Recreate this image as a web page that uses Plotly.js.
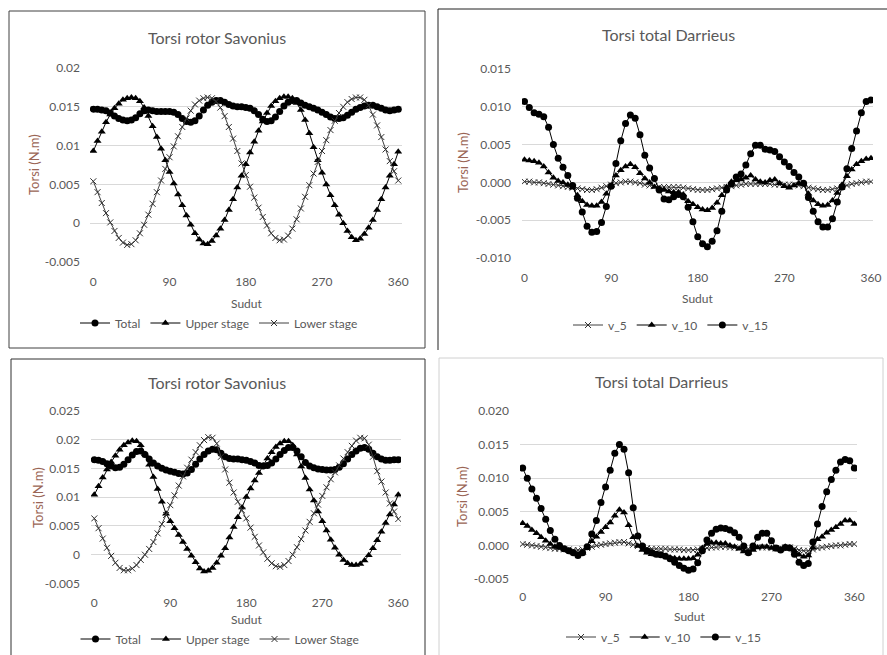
<!DOCTYPE html>
<html><head><meta charset="utf-8">
<script src="https://cdn.plot.ly/plotly-3.0.1.min.js"></script>
<style>html,body{margin:0;padding:0;background:#fff;}#chart{width:887px;height:655px;}</style>
</head><body><div id="chart"></div>
<script>
const angle = [0,5,10,15,20,25,30,35,40,45,50,55,60,65,70,75,80,85,90,95,100,105,110,115,120,125,130,135,140,145,150,155,160,165,170,175,180,185,190,195,200,205,210,215,220,225,230,235,240,245,250,255,260,265,270,275,280,285,290,295,300,305,310,315,320,325,330,335,340,345,350,355,360];
const xTicks = [0,90,180,270,360];

// Panel 1: Torsi rotor Savonius (top)
const sav1Total = [0.0147,0.0147,0.0146,0.0145,0.0142,0.0138,0.0135,0.0133,0.0132,0.0133,
 0.0136,0.0141,0.0145,0.0146,0.0145,0.0144,0.0144,0.0144,0.0144,0.0143,
 0.0140,0.0135,0.0131,0.0130,0.0132,0.0138,0.0146,0.0152,0.0156,0.0158,
 0.0158,0.0156,0.0153,0.0151,0.0150,0.0150,0.0149,0.0148,0.0145,0.0140,
 0.0134,0.0131,0.0132,0.0137,0.0144,0.0151,0.0156,0.0158,0.0158,0.0155,
 0.0152,0.0150,0.0148,0.0146,0.0143,0.0140,0.0137,0.0135,0.0135,0.0136,
 0.0139,0.0143,0.0147,0.0149,0.0151,0.0152,0.0152,0.0150,0.0148,0.0146,
 0.0145,0.0146,0.0147];
const sav1Upper = [0.0093,0.0106,0.0118,0.0130,0.0140,0.0148,0.0154,0.0159,0.0161,0.0162,
 0.0161,0.0157,0.0149,0.0138,0.0125,0.0111,0.0096,0.0081,0.0066,0.0051,
 0.0037,0.0023,0.0010,-0.0002,-0.0013,-0.0021,-0.0026,-0.0027,-0.0023,-0.0016,
 -0.0007,0.0004,0.0017,0.0031,0.0046,0.0061,0.0076,0.0091,0.0105,0.0119,
 0.0131,0.0142,0.0151,0.0157,0.0161,0.0163,0.0163,0.0161,0.0155,0.0146,
 0.0133,0.0116,0.0098,0.0081,0.0065,0.0050,0.0036,0.0023,0.0011,0.0000,
 -0.0010,-0.0018,-0.0022,-0.0020,-0.0014,-0.0006,0.0004,0.0017,0.0031,0.0046,
 0.0061,0.0076,0.0092];
const sav1Lower = [0.0054,0.0040,0.0026,0.0013,0.0001,-0.0010,-0.0019,-0.0025,-0.0028,-0.0027,
 -0.0022,-0.0013,-0.0002,0.0011,0.0025,0.0040,0.0055,0.0070,0.0085,0.0099,
 0.0112,0.0124,0.0135,0.0145,0.0153,0.0158,0.0161,0.0162,0.0161,0.0157,
 0.0149,0.0138,0.0124,0.0109,0.0093,0.0077,0.0062,0.0047,0.0033,0.0020,
 0.0008,-0.0003,-0.0013,-0.0019,-0.0022,-0.0021,-0.0016,-0.0007,0.0005,0.0019,
 0.0034,0.0049,0.0064,0.0079,0.0093,0.0107,0.0120,0.0132,0.0142,0.0150,
 0.0156,0.0160,0.0162,0.0162,0.0159,0.0152,0.0140,0.0126,0.0111,0.0095,
 0.0080,0.0067,0.0055];

// Panel 2: Torsi total Darrieus (top)
const dar1V5 = [0.0001,0.0001,0.0000,0.0000,-0.0001,-0.0002,-0.0003,-0.0004,-0.0005,-0.0006,
 -0.0007,-0.0008,-0.0009,-0.0010,-0.0010,-0.0009,-0.0007,-0.0005,-0.0003,-0.0001,
 0.0000,0.0001,0.0001,0.0000,-0.0001,-0.0003,-0.0004,-0.0005,-0.0006,-0.0006,
 -0.0006,-0.0006,-0.0006,-0.0007,-0.0008,-0.0009,-0.0010,-0.0010,-0.0010,-0.0009,
 -0.0008,-0.0007,-0.0006,-0.0005,-0.0004,-0.0003,-0.0002,-0.0002,-0.0002,-0.0002,
 -0.0002,-0.0002,-0.0003,-0.0003,-0.0003,-0.0003,-0.0003,-0.0004,-0.0005,-0.0007,
 -0.0008,-0.0009,-0.0010,-0.0010,-0.0009,-0.0008,-0.0006,-0.0004,-0.0002,-0.0001,
 0.0000,0.0001,0.0001];
const dar1V10 = [0.0030,0.0029,0.0028,0.0026,0.0021,0.0013,0.0006,0.0002,0.0000,-0.0003,
 -0.0007,-0.0017,-0.0025,-0.0030,-0.0031,-0.0031,-0.0026,-0.0015,-0.0004,0.0009,
 0.0016,0.0021,0.0024,0.0020,0.0012,0.0005,0.0000,-0.0006,-0.0008,-0.0010,
 -0.0012,-0.0013,-0.0013,-0.0016,-0.0025,-0.0029,-0.0033,-0.0036,-0.0037,-0.0034,
 -0.0027,-0.0017,-0.0006,0.0001,0.0003,0.0004,0.0006,0.0009,0.0004,0.0001,
 0.0000,0.0003,0.0004,-0.0001,-0.0005,-0.0007,-0.0004,-0.0001,-0.0002,-0.0015,
 -0.0024,-0.0029,-0.0031,-0.0030,-0.0024,-0.0014,-0.0003,0.0008,0.0017,0.0024,
 0.0028,0.0031,0.0032];
const dar1V15 = [0.0107,0.0099,0.0092,0.0090,0.0087,0.0073,0.0050,0.0032,0.0020,0.0009,
 -0.0004,-0.0021,-0.0039,-0.0058,-0.0066,-0.0065,-0.0053,-0.0032,-0.0005,0.0025,
 0.0055,0.0078,0.0089,0.0085,0.0063,0.0036,0.0019,0.0005,-0.0010,-0.0022,
 -0.0023,-0.0019,-0.0016,-0.0019,-0.0033,-0.0052,-0.0072,-0.0081,-0.0085,-0.0078,
 -0.0064,-0.0038,-0.0010,-0.0002,0.0007,0.0011,0.0023,0.0038,0.0049,0.0049,
 0.0044,0.0043,0.0041,0.0034,0.0027,0.0021,0.0013,0.0007,-0.0001,-0.0020,
 -0.0038,-0.0052,-0.0059,-0.0059,-0.0048,-0.0026,-0.0006,0.0018,0.0045,0.0068,
 0.0092,0.0107,0.0109];

// Panel 3: Torsi rotor Savonius (bottom)
const sav3Total = [0.0165,0.0164,0.0162,0.0158,0.0154,0.0151,0.0152,0.0157,0.0165,0.0173,
 0.0179,0.0180,0.0174,0.0166,0.0159,0.0154,0.0150,0.0147,0.0145,0.0143,
 0.0141,0.0140,0.0142,0.0148,0.0157,0.0166,0.0174,0.0180,0.0183,0.0182,
 0.0176,0.0170,0.0167,0.0166,0.0166,0.0165,0.0164,0.0162,0.0159,0.0155,
 0.0154,0.0155,0.0159,0.0166,0.0174,0.0181,0.0186,0.0186,0.0180,0.0170,
 0.0160,0.0154,0.0151,0.0149,0.0148,0.0147,0.0147,0.0148,0.0152,0.0158,
 0.0166,0.0174,0.0180,0.0185,0.0186,0.0183,0.0176,0.0170,0.0166,0.0164,
 0.0164,0.0165,0.0165];
const sav3Upper = [0.0104,0.0119,0.0134,0.0148,0.0161,0.0172,0.0182,0.0190,0.0195,0.0198,
 0.0197,0.0190,0.0175,0.0156,0.0135,0.0114,0.0092,0.0071,0.0058,0.0046,
 0.0034,0.0022,0.0010,-0.0002,-0.0013,-0.0024,-0.0029,-0.0028,-0.0023,-0.0014,
 -0.0002,0.0011,0.0030,0.0048,0.0065,0.0082,0.0100,0.0115,0.0129,0.0142,
 0.0155,0.0167,0.0178,0.0187,0.0193,0.0197,0.0197,0.0190,0.0174,0.0153,
 0.0133,0.0113,0.0094,0.0075,0.0058,0.0042,0.0026,0.0012,0.0000,-0.0009,
 -0.0015,-0.0018,-0.0018,-0.0016,-0.0010,-0.0001,0.0011,0.0025,0.0040,0.0055,
 0.0070,0.0087,0.0104];
const sav3Lower = [0.0063,0.0046,0.0028,0.0012,-0.0002,-0.0014,-0.0023,-0.0027,-0.0027,-0.0024,
 -0.0018,-0.0009,0.0000,0.0010,0.0022,0.0037,0.0053,0.0069,0.0086,0.0103,
 0.0120,0.0136,0.0151,0.0165,0.0178,0.0190,0.0199,0.0204,0.0203,0.0193,
 0.0170,0.0148,0.0125,0.0108,0.0092,0.0077,0.0063,0.0047,0.0031,0.0016,
 0.0004,-0.0007,-0.0015,-0.0020,-0.0021,-0.0018,-0.0011,0.0000,0.0013,0.0027,
 0.0042,0.0057,0.0072,0.0087,0.0102,0.0117,0.0131,0.0143,0.0155,0.0167,
 0.0178,0.0189,0.0198,0.0203,0.0202,0.0191,0.0170,0.0145,0.0127,0.0108,
 0.0089,0.0075,0.0062];

// Panel 4: Torsi total Darrieus (bottom)
const dar2V5 = [0.0002,0.0001,0.0000,-0.0001,-0.0002,-0.0003,-0.0004,-0.0005,-0.0005,-0.0006,
 -0.0006,-0.0007,-0.0007,-0.0006,-0.0004,-0.0002,0.0000,0.0001,0.0002,0.0003,
 0.0004,0.0005,0.0005,0.0003,0.0001,-0.0001,-0.0003,-0.0004,-0.0005,-0.0005,
 -0.0005,-0.0005,-0.0006,-0.0006,-0.0006,-0.0007,-0.0007,-0.0007,-0.0006,-0.0005,
 -0.0004,-0.0003,-0.0003,-0.0002,-0.0002,-0.0003,-0.0003,-0.0004,-0.0005,-0.0005,
 -0.0004,-0.0003,-0.0003,-0.0003,-0.0004,-0.0004,-0.0004,-0.0003,-0.0003,-0.0005,
 -0.0007,-0.0008,-0.0008,-0.0006,-0.0004,-0.0003,-0.0002,-0.0001,0.0000,0.0000,
 0.0001,0.0002,0.0002];
const dar2V10 = [0.0033,0.0029,0.0023,0.0018,0.0012,0.0007,0.0002,-0.0002,-0.0004,-0.0006,
 -0.0008,-0.0011,-0.0013,-0.0011,-0.0004,0.0006,0.0013,0.0020,0.0027,0.0034,
 0.0044,0.0053,0.0049,0.0030,0.0012,-0.0001,-0.0007,-0.0011,-0.0013,-0.0014,
 -0.0015,-0.0016,-0.0018,-0.0019,-0.0020,-0.0020,-0.0020,-0.0019,-0.0014,-0.0004,
 0.0002,0.0004,0.0004,0.0003,0.0003,0.0000,-0.0002,-0.0005,-0.0009,-0.0011,
 -0.0007,-0.0003,-0.0002,-0.0002,-0.0004,-0.0006,-0.0006,-0.0002,-0.0003,-0.0008,
 -0.0014,-0.0017,-0.0015,-0.0003,0.0009,0.0013,0.0019,0.0023,0.0027,0.0032,
 0.0037,0.0037,0.0032];
const dar2V15 = [0.0115,0.0100,0.0084,0.0070,0.0055,0.0039,0.0022,0.0009,0.0000,-0.0005,
 -0.0008,-0.0011,-0.0015,-0.0011,-0.0002,0.0017,0.0037,0.0064,0.0087,0.0112,
 0.0137,0.0150,0.0143,0.0108,0.0056,0.0014,-0.0001,-0.0008,-0.0011,-0.0013,
 -0.0014,-0.0016,-0.0020,-0.0025,-0.0030,-0.0034,-0.0037,-0.0035,-0.0026,-0.0008,
 0.0008,0.0018,0.0024,0.0026,0.0025,0.0023,0.0019,0.0012,-0.0001,-0.0011,
 -0.0001,0.0012,0.0018,0.0018,0.0007,-0.0004,-0.0007,-0.0003,-0.0004,-0.0013,
 -0.0025,-0.0030,-0.0027,0.0005,0.0032,0.0058,0.0080,0.0098,0.0112,0.0124,
 0.0128,0.0126,0.0115];

// Tick labels
const savTicks1 = [0.02,0.015,0.01,0.005,0,-0.005];
const savTickText1 = ["0.02","0.015","0.01","0.005","0","-0.005"];
const darTicks1 = [0.015,0.010,0.005,0,-0.005,-0.010];
const darTickText1 = ["0.015","0.010","0.005","0.000","-0.005","-0.010"];
const savTicks3 = [0.025,0.02,0.015,0.01,0.005,0,-0.005];
const savTickText3 = ["0.025","0.02","0.015","0.01","0.005","0","-0.005"];
const darTicks4 = [0.020,0.015,0.010,0.005,0,-0.005];
const darTickText4 = ["0.020","0.015","0.010","0.005","0.000","-0.005"];

// ---- layout helpers ----
const W = 887, H = 655;
const fx = p => p / W;
const fy = p => 1 - p / H;
const GRAY = '#595959';
const FONT = 'Lato, "Open Sans", sans-serif';

function xAx(l, r, range, anchor, standoff) {
  return {domain:[fx(l), fx(r)], range: range, anchor: anchor, tickvals: xTicks,
    ticktext: xTicks.map(String), showgrid:false, zeroline:false, showline:false,
    ticks:'', ticklabelstandoff: standoff, tickfont:{family:FONT, size:12, color:GRAY}, fixedrange:true};
}
function yAx(t, b, range, anchor, vals, text, standoff) {
  return {domain:[fy(b), fy(t)], range: range, anchor: anchor, tickvals: vals, ticktext: text,
    showgrid:true, gridcolor:'#d9d9d9', gridwidth:1, zeroline:false, showline:false,
    ticks:'', ticklabelstandoff: standoff, tickfont:{family:FONT, size:12, color:GRAY}, fixedrange:true};
}

const lineBlack = {color:'#000000', width:1};
const lineGray = {color:'#404040', width:1};
const mkCircle = {symbol:'circle', size:7, color:'#000000'};
const mkTri = {symbol:'triangle-up', size:7, color:'#000000'};
const mkX = {symbol:'x-thin', size:6, color:'#303030', line:{width:1, color:'#303030'}};

function tr(y, name, xa, ya, leg, line, mk) {
  return {x: angle, y: y, name: name, type:'scatter', mode:'lines+markers', xaxis: xa, yaxis: ya,
    legend: leg, line: line, marker: mk, hoverinfo:'skip'};
}

const data = [
  tr(sav1Total, 'Total', 'x', 'y', 'legend', lineBlack, mkCircle),
  tr(sav1Upper, 'Upper stage', 'x', 'y', 'legend', lineBlack, mkTri),
  tr(sav1Lower, 'Lower stage', 'x', 'y', 'legend', lineGray, mkX),
  tr(dar1V5, 'v_5', 'x2', 'y2', 'legend2', lineGray, mkX),
  tr(dar1V10, 'v_10', 'x2', 'y2', 'legend2', lineBlack, mkTri),
  tr(dar1V15, 'v_15', 'x2', 'y2', 'legend2', lineBlack, mkCircle),
  tr(sav3Total, 'Total', 'x3', 'y3', 'legend3', lineBlack, mkCircle),
  tr(sav3Upper, 'Upper stage', 'x3', 'y3', 'legend3', lineBlack, mkTri),
  tr(sav3Lower, 'Lower Stage', 'x3', 'y3', 'legend3', lineGray, mkX),
  tr(dar2V5, 'v_5', 'x4', 'y4', 'legend4', lineGray, mkX),
  tr(dar2V10, 'v_10', 'x4', 'y4', 'legend4', lineBlack, mkTri),
  tr(dar2V15, 'v_15', 'x4', 'y4', 'legend4', lineBlack, mkCircle)
];

function leg(cx, cy) {
  return {x: fx(cx), y: fy(cy), xanchor:'center', yanchor:'middle', orientation:'h',
    font:{family:FONT, size:12, color:GRAY}, itemwidth:30, bgcolor:'rgba(0,0,0,0)',
    borderwidth:0, itemclick:false, itemdoubleclick:false, tracegroupgap:0};
}

function ann(text, cx, cy, size, color, angleDeg) {
  return {text: text, x: fx(cx), y: fy(cy), xref:'paper', yref:'paper', showarrow:false,
    xanchor:'center', yanchor:'middle', textangle: angleDeg || 0,
    font:{family:FONT, size:size, color:color}};
}
const YT = '#9a6555';
const annotations = [
  ann('Torsi rotor Savonius', 217, 37, 16, GRAY),
  ann('Torsi total Darrieus', 668, 35, 16, GRAY),
  ann('Torsi rotor Savonius', 217, 382, 16, GRAY),
  ann('Torsi total Darrieus', 661, 381, 16, GRAY),
  ann('Torsi (N.m)', 34, 165, 13, YT, -90),
  ann('Torsi (N.m)', 463, 163, 13, YT, -90),
  ann('Torsi (N.m)', 38, 498, 13, YT, -90),
  ann('Torsi (N.m)', 462, 496, 13, YT, -90),
  ann('Sudut', 246, 303, 12, GRAY),
  ann('Sudut', 697, 298, 12, GRAY),
  ann('Sudut', 246, 619, 12, GRAY),
  ann('Sudut', 689, 616, 12, GRAY)
];

function seg(x0, y0, x1, y1, color) {
  return {type:'line', xref:'paper', yref:'paper', x0: fx(x0), y0: fy(y0), x1: fx(x1), y1: fy(y1),
    line:{color: color, width:1}, layer:'above'};
}
const shapes = [
  seg(9,11,425,11,'#404040'), seg(9,11,9,348,'#404040'), seg(425,11,425,348,'#404040'), seg(9,348,425,348,'#404040'),
  seg(438,9,887,9,'#202020'), seg(438,9,438,350,'#202020'),
  seg(11,359,425,359,'#303030'), seg(11,359,11,655,'#303030'), seg(425,359,425,655,'#303030'),
  seg(439,358,883,358,'#d0d0d0'), seg(439,358,439,655,'#d0d0d0'), seg(883,358,883,655,'#d0d0d0')
];

const layout = {
  width: W, height: H, margin:{l:0, r:0, t:0, b:0}, paper_bgcolor:'#ffffff', plot_bgcolor:'rgba(0,0,0,0)',
  showlegend: true, hovermode: false,
  xaxis:  xAx(90, 402, [-3.9, 364.4], 'y', 11),
  yaxis:  yAx(68, 262, [-0.005, 0.02], 'x', savTicks1, savTickText1, 9),
  xaxis2: xAx(522, 873, [-2.6, 362.1], 'y2', 11),
  yaxis2: yAx(69, 258, [-0.010, 0.015], 'x2', darTicks1, darTickText1, 10),
  xaxis3: xAx(91, 401, [-3.9, 363.2], 'y3', 10),
  yaxis3: yAx(410.7, 583.5, [-0.005, 0.025], 'x3', savTicks3, savTickText3, 10),
  xaxis4: xAx(520, 857, [-2.9, 362.9], 'y4', 9),
  yaxis4: yAx(411, 579, [-0.005, 0.020], 'x4', darTicks4, darTickText4, 10),
  legend: leg(219, 323),
  legend2: leg(671, 325),
  legend3: leg(220, 639),
  legend4: leg(664, 637),
  annotations: annotations,
  shapes: shapes
};

Plotly.newPlot('chart', data, layout, {displayModeBar:false, staticPlot:true});
</script></body></html>
